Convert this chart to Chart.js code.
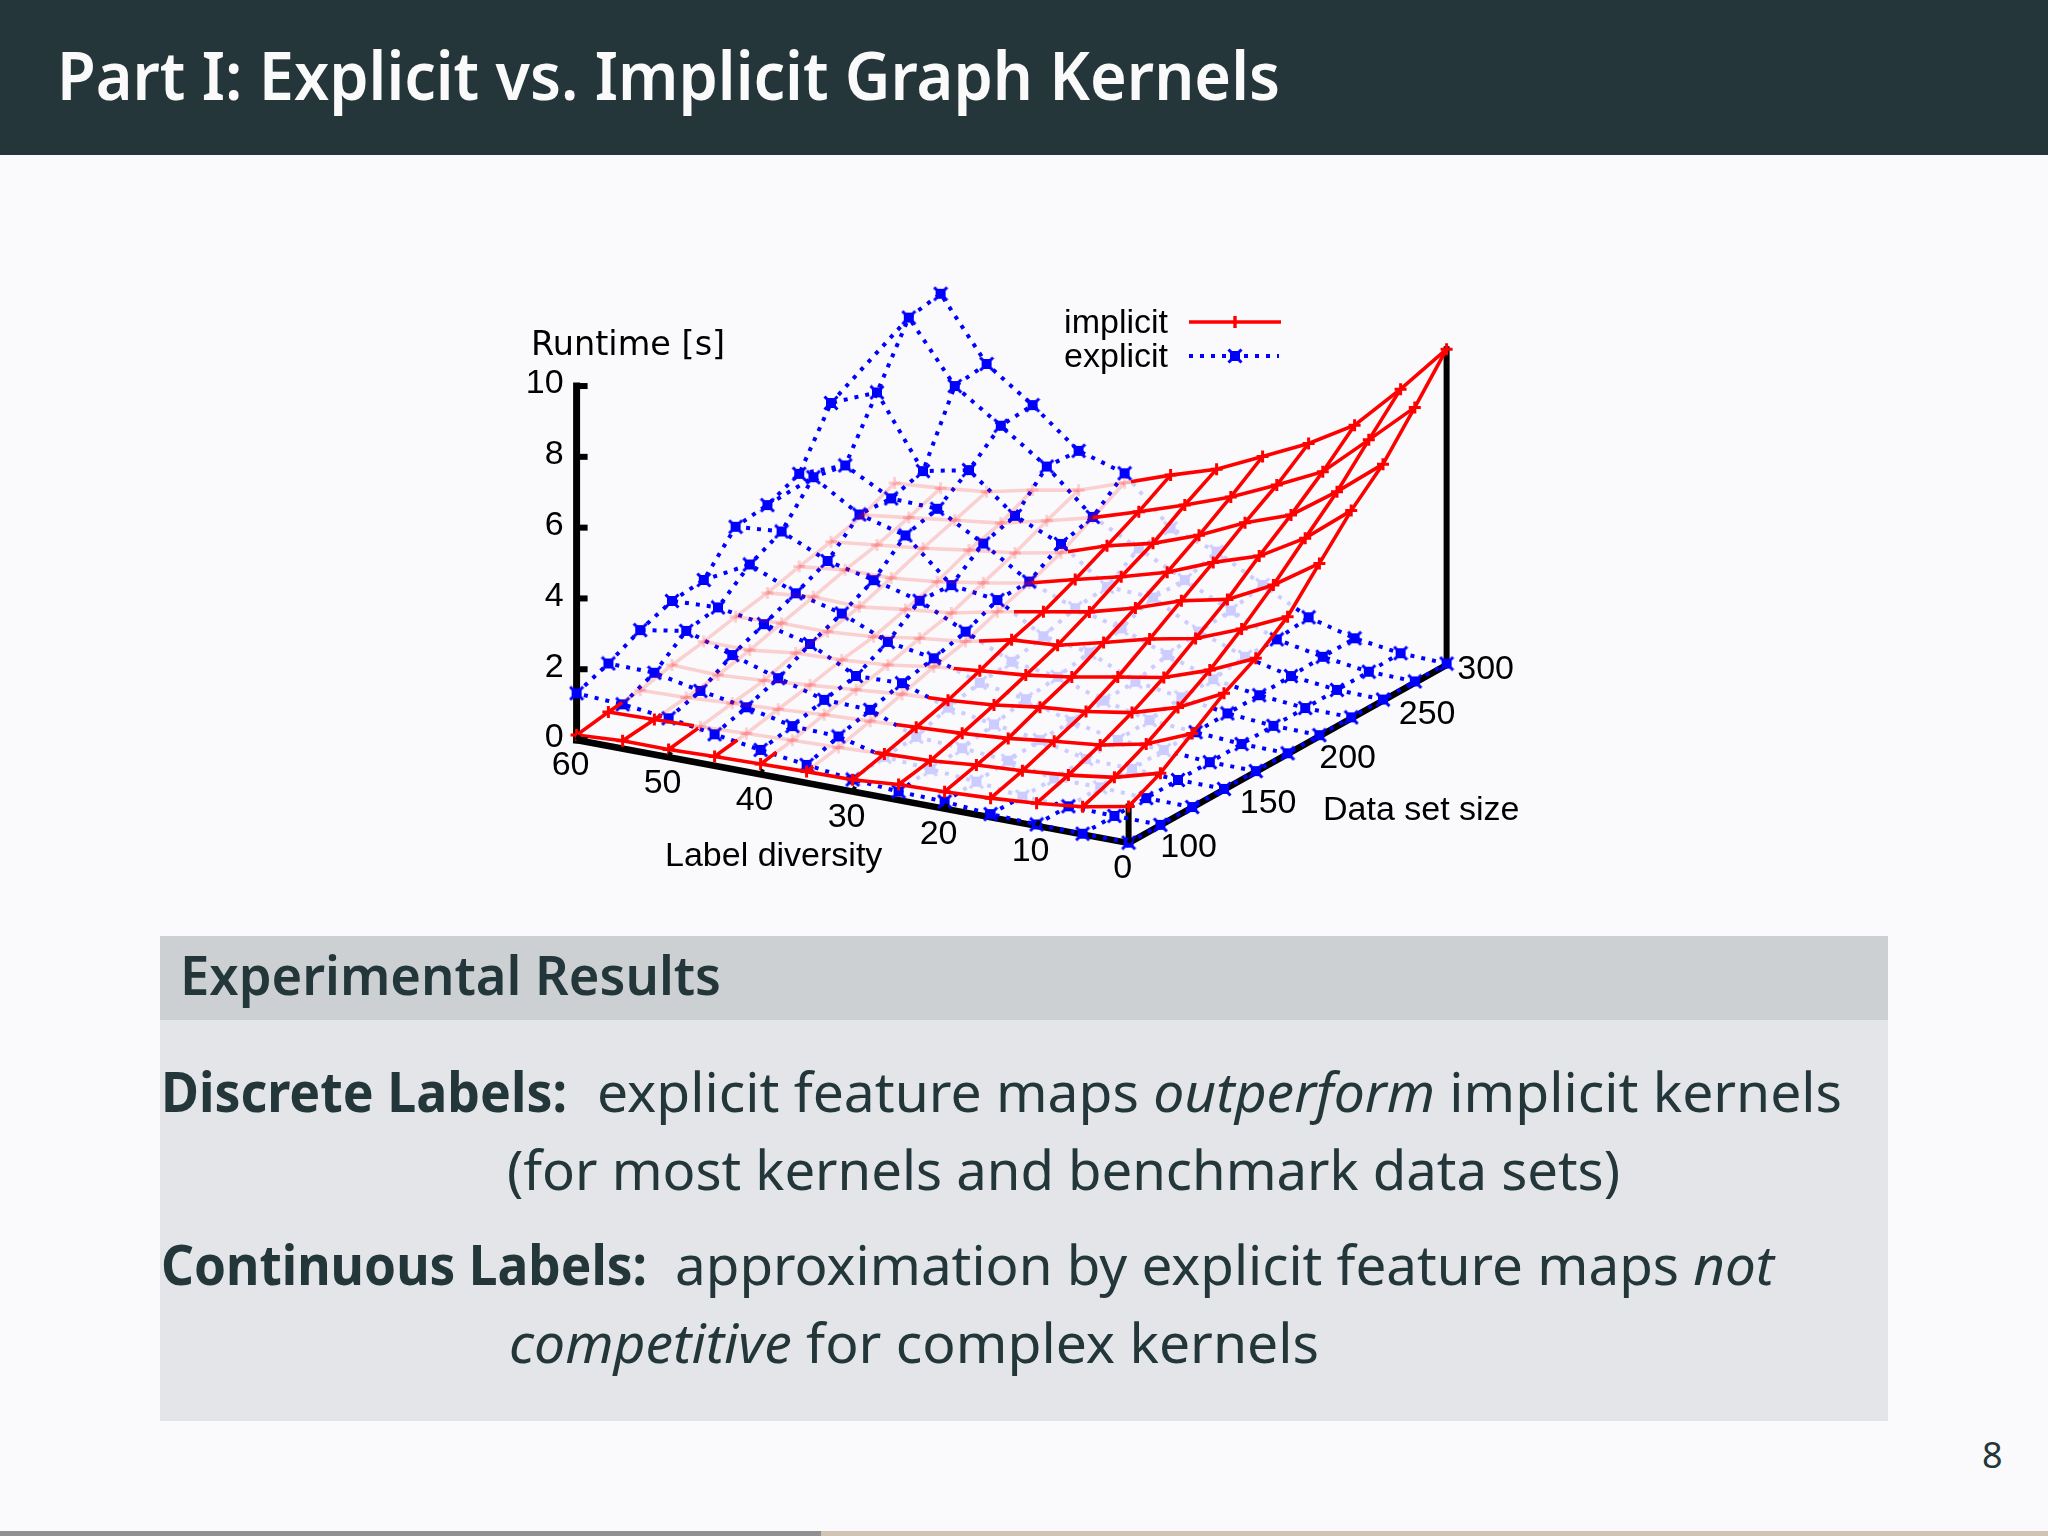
<!DOCTYPE html>
<html>
<head>
<meta charset="utf-8">
<title>Part I: Explicit vs. Implicit Graph Kernels</title>
<script src="https://cdn.jsdelivr.net/npm/chart.js@4"></script>
<style>
  html, body { margin: 0; padding: 0; background: #fafafc; }
  #slide { position: absolute; left: 0; top: 0; }
  #plot { position: absolute; left: 500px; top: 270px; }
  text { font-family: "Noto Sans", sans-serif; fill: #23373b; }
</style>
</head>
<body>
<svg id="slide" width="2048" height="1536" xmlns="http://www.w3.org/2000/svg">
  <rect x="0" y="0" width="2048" height="155" fill="#25363b"/>
  <text x="57" y="100" font-size="66" font-weight="600" style="fill:#fafafa" textLength="1223" lengthAdjust="spacingAndGlyphs">Part I: Explicit vs. Implicit Graph Kernels</text>

  <rect x="160" y="936" width="1728" height="485" fill="#e3e5e8"/>
  <rect x="160" y="936" width="1728" height="84" fill="#cdd0d2"/>
  <text x="180" y="995" font-size="55" font-weight="600" textLength="541" lengthAdjust="spacingAndGlyphs">Experimental Results</text>

  <text x="161" y="1112" font-size="55" font-weight="700" textLength="406" lengthAdjust="spacingAndGlyphs">Discrete Labels:</text>
  <text x="597" y="1112" font-size="55" font-weight="400" textLength="1245" lengthAdjust="spacingAndGlyphs">explicit feature maps <tspan font-style="italic">outperform</tspan> implicit kernels</text>
  <text x="507" y="1190" font-size="55" font-weight="400" textLength="1113" lengthAdjust="spacingAndGlyphs">(for most kernels and benchmark data sets)</text>
  <text x="161" y="1285" font-size="55" font-weight="700" textLength="486" lengthAdjust="spacingAndGlyphs">Continuous Labels:</text>
  <text x="675" y="1285" font-size="55" font-weight="400" textLength="1099" lengthAdjust="spacingAndGlyphs">approximation by explicit feature maps <tspan font-style="italic">not</tspan></text>
  <text x="509" y="1363" font-size="55" font-weight="400" textLength="810" lengthAdjust="spacingAndGlyphs"><tspan font-style="italic">competitive</tspan> for complex kernels</text>

  <text x="1982" y="1468" font-size="36" font-weight="400">8</text>
  <rect x="0" y="1531" width="821" height="5" fill="#909090"/>
  <rect x="821" y="1531" width="1227" height="5" fill="#d2c4b4"/>
</svg>
<canvas id="plot" width="1060" height="640"></canvas>

<script>
// axes of the surface plot
var labelDiversity = [0, 5, 10, 15, 20, 25, 30, 35, 40, 45, 50, 55, 60];
var dataSetSize = [100, 120, 140, 160, 180, 200, 220, 240, 260, 280, 300];
var diversityTicks = [0, 10, 20, 30, 40, 50, 60];
var sizeTicks = [100, 150, 200, 250, 300];
var runtimeTicks = [0, 2, 4, 6, 8, 10];

// runtime [s], one row per label diversity, one column per data set size
var implicitRuntime = [
  [1.03, 1.47, 2.09, 2.72, 3.21, 3.88, 4.88, 5.87, 6.68, 7.78, 8.92],
  [0.78, 1.11, 1.55, 2.08, 2.63, 3.29, 4.03, 4.85, 5.66, 6.62, 7.55],
  [0.64, 0.93, 1.28, 1.69, 2.18, 2.78, 3.38, 4.10, 4.76, 5.48, 6.29],
  [0.54, 0.81, 1.14, 1.48, 1.95, 2.52, 3.10, 3.68, 4.30, 4.86, 5.53],
  [0.48, 0.73, 0.98, 1.36, 1.71, 2.18, 2.65, 3.16, 3.70, 4.28, 4.92],
  [0.44, 0.61, 0.88, 1.18, 1.52, 1.86, 2.30, 2.79, 3.23, 3.81, 4.32],
  [0.33, 0.56, 0.81, 1.07, 1.40, 1.77, 2.06, 2.47, 2.92, 3.38, 3.91],
  [0.32, 0.50, 0.74, 1.00, 1.27, 1.48, 1.82, 2.13, 2.48, 2.97, 3.45],
  [0.29, 0.46, 0.68, 0.88, 1.08, 1.33, 1.54, 1.89, 2.23, 2.64, 3.00],
  [0.26, 0.41, 0.59, 0.77, 0.98, 1.13, 1.40, 1.68, 2.07, 2.33, 2.76],
  [0.22, 0.36, 0.52, 0.66, 0.93, 1.03, 1.23, 1.54, 1.88, 2.17, 2.47],
  [0.22, 0.32, 0.44, 0.57, 0.77, 1.03, 1.27, 1.53, 1.73, 2.00, 2.33],
  [0.14, 0.29, 0.40, 0.61, 0.77, 0.97, 1.14, 1.38, 1.58, 1.83, 2.23]
];
var explicitRuntime = [
  [0.01, 0.01, 0.01, 0.02, 0.02, 0.02, 0.03, 0.03, 0.03, 0.04, 0.04],
  [0.02, 0.02, 0.02, 0.03, 0.03, 0.04, 0.05, 0.05, 0.06, 0.07, 0.09],
  [0.04, 0.05, 0.08, 0.10, 0.13, 0.13, 0.16, 0.17, 0.21, 0.25, 0.27],
  [0.09, 0.08, 0.09, 0.14, 0.17, 0.23, 0.37, 0.38, 0.51, 0.50, 0.62],
  [0.20, 0.26, 0.35, 0.43, 0.45, 0.54, 0.57, 0.82, 0.98, 1.07, 1.29],
  [0.24, 0.37, 0.46, 0.63, 0.84, 0.97, 1.15, 1.33, 1.70, 1.69, 1.99],
  [0.34, 0.48, 0.54, 0.86, 1.06, 1.15, 1.37, 1.66, 1.76, 2.34, 2.41],
  [0.51, 0.81, 1.06, 1.31, 1.51, 1.76, 2.15, 2.17, 2.73, 2.99, 3.72],
  [0.69, 0.86, 1.10, 1.27, 1.73, 2.39, 2.33, 3.00, 3.28, 4.17, 4.11],
  [0.89, 1.15, 1.47, 1.93, 2.29, 2.73, 3.49, 3.74, 4.33, 5.08, 5.16],
  [1.10, 1.37, 1.88, 2.25, 2.62, 3.03, 3.84, 3.79, 4.06, 5.96, 6.08],
  [1.25, 1.64, 2.32, 2.48, 3.19, 3.62, 4.65, 4.48, 6.04, 7.65, 7.82],
  [1.32, 1.66, 2.10, 2.42, 2.51, 3.51, 3.62, 4.00, 5.50, null, null]
];

var RED = "#ff0000", RED_PALE = "rgba(255,0,0,0.17)";
var BLUE = "#0000ff", BLUE_PALE = "#ccccff";
var LAST_SIZE_AT_60 = 8;

// gnuplot view of the box, the scale units of the chart are page pixels
function project(diversity, size, runtime) {
  var u = diversity / 5, v = (size - 100) / 20;
  return {
    x: 1128.6 - 46 * u + 31.8 * v,
    y: 843 - 8.58 * u - 17.8 * v - 35.4 * runtime
  };
}

function heightAt(grid, u, v) {
  var u0 = Math.min(Math.floor(u), grid.length - 2), v0 = Math.min(Math.floor(v), grid[0].length - 2);
  var a = grid[u0][v0], b = grid[u0][v0 + 1], c = grid[u0 + 1][v0], d = grid[u0 + 1][v0 + 1];
  if (a === null || b === null || c === null || d === null) return null;
  var fu = u - u0, fv = v - v0;
  return (a * (1 - fv) + b * fv) * (1 - fu) + (c * (1 - fv) + d * fv) * fu;
}

// walk from the point towards the viewer, if it goes through the other surface it is behind it
function isCovered(other, u, v, z) {
  var prev = null;
  for (var t = 0; t < 20; t += 0.12) {
    var uu = u - 0.69 * t, vv = v - t, zz = z + 0.67 * t;
    if (uu < 0 || vv < 0) break;
    var h = heightAt(other, uu, vv);
    if (h === null) { prev = null; continue; }
    var d = zz - h;
    if (prev !== null && prev * d < 0) return true;
    prev = d;
  }
  return false;
}

function node(grid, u, v) {
  var p = project(labelDiversity[u], dataSetSize[v], grid[u][v]);
  return { x: p.x, y: p.y, u: u, v: v, z: grid[u][v] };
}

function hiddenColors(points, other, bright, pale) {
  return function (ctx) {
    var a = points[ctx.p0DataIndex], b = points[ctx.p1DataIndex];
    var N = 14, flags = [], any = false, all = true;
    for (var k = 0; k < N; k++) {
      var m = (k + 0.5) / N;
      var hid = isCovered(other, a.u + (b.u - a.u) * m, a.v + (b.v - a.v) * m, a.z + (b.z - a.z) * m);
      flags.push(hid);
      any = any || hid;
      all = all && hid;
    }
    if (!any) return bright;
    if (all) return pale;
    var g = ctx.chart.ctx.createLinearGradient(ctx.p0.x, ctx.p0.y, ctx.p1.x, ctx.p1.y);
    flags.forEach(function (hid, k) {
      g.addColorStop(k / N, hid ? pale : bright);
      g.addColorStop((k + 1) / N, hid ? pale : bright);
    });
    return g;
  };
}

function blueMark(color) {
  var c = document.createElement("canvas");
  c.width = 16; c.height = 16;
  var g = c.getContext("2d");
  g.fillStyle = color;
  g.fillRect(3, 3, 10, 10);
  g.strokeStyle = color;
  g.lineWidth = 3;
  g.beginPath();
  g.moveTo(1.5, 1.5); g.lineTo(14.5, 14.5);
  g.moveTo(14.5, 1.5); g.lineTo(1.5, 14.5);
  g.stroke();
  return c;
}
var markBright = blueMark(BLUE), markPale = blueMark(BLUE_PALE);

function redSet(points, withMarks) {
  return {
    data: points, showLine: true, borderWidth: 3.6, borderColor: RED,
    pointStyle: "cross", pointRadius: withMarks ? 6 : 0, pointBorderWidth: 3,
    pointBorderColor: function (ctx) {
      var r = ctx.raw;
      return r && isCovered(explicitRuntime, r.u, r.v, r.z) ? RED_PALE : RED;
    },
    segment: { borderColor: hiddenColors(points, explicitRuntime, RED, RED_PALE) }
  };
}

function blueSet(points, withMarks) {
  return {
    data: points, showLine: true, borderWidth: 4, borderColor: BLUE, borderDash: [4, 7],
    pointStyle: function (ctx) {
      var r = ctx.raw;
      return r && isCovered(implicitRuntime, r.u, r.v, r.z) ? markPale : markBright;
    },
    pointRadius: withMarks ? 7 : 0,
    segment: { borderColor: hiddenColors(points, implicitRuntime, BLUE, BLUE_PALE) }
  };
}

function axisSet(a, b, width) {
  return { data: [a, b], showLine: true, borderWidth: width, borderColor: "#000", pointRadius: 0, borderCapStyle: "square" };
}

var datasets = [];
labelDiversity.forEach(function (_, u) {
  datasets.push(redSet(dataSetSize.map(function (_, v) { return node(implicitRuntime, u, v); }), true));
});
dataSetSize.forEach(function (_, v) {
  datasets.push(redSet(labelDiversity.map(function (_, u) { return node(implicitRuntime, u, v); }), false));
});
labelDiversity.forEach(function (_, u) {
  var pts = [];
  dataSetSize.forEach(function (_, v) { if (explicitRuntime[u][v] !== null) pts.push(node(explicitRuntime, u, v)); });
  datasets.push(blueSet(pts, true));
});
dataSetSize.forEach(function (_, v) {
  var pts = [];
  labelDiversity.forEach(function (_, u) { if (explicitRuntime[u][v] !== null) pts.push(node(explicitRuntime, u, v)); });
  datasets.push(blueSet(pts, false));
});
// the 60 row stops early and closes to the next row
datasets.push(blueSet([node(explicitRuntime, 12, LAST_SIZE_AT_60), node(explicitRuntime, 11, LAST_SIZE_AT_60 + 1)], false));

datasets.push(axisSet(project(60, 100, 0), project(0, 100, 0), 6.5));
datasets.push(axisSet(project(0, 100, 0), project(0, 300, 0), 6.5));
datasets.push(axisSet(project(60, 100, 0), project(60, 100, 10), 7));
datasets.push(axisSet(project(0, 300, 0), project(0, 300, implicitRuntime[0][10]), 6));
datasets.push(axisSet(project(0, 100, 0), project(0, 100, implicitRuntime[0][0]), 6));

var plotLabels = {
  id: "plotLabels",
  afterDraw: function (chart) {
    var c = chart.ctx, sx = chart.scales.x, sy = chart.scales.y;
    var px = function (v) { return sx.getPixelForValue(v); };
    var py = function (v) { return sy.getPixelForValue(v); };
    var label = function (s, x, y, font, align, base) {
      c.font = font; c.textAlign = align; c.textBaseline = base; c.fillStyle = "#000";
      c.fillText(s, px(x), py(y));
    };
    var tickFont = '34px "Liberation Sans"';
    c.save();

    c.strokeStyle = "#000";
    runtimeTicks.forEach(function (t) {
      var p = project(60, 100, t);
      c.lineWidth = 6;
      c.beginPath(); c.moveTo(px(p.x), py(p.y)); c.lineTo(px(p.x + 11), py(p.y)); c.stroke();
      label(String(t), p.x - 13, p.y - 2, tickFont, "right", "middle");
    });
    diversityTicks.forEach(function (t) {
      var p = project(t, 100, 0);
      c.lineWidth = 4;
      c.beginPath(); c.moveTo(px(p.x), py(p.y)); c.lineTo(px(p.x + 2.5), py(p.y - 5)); c.stroke();
      label(String(t), p.x - 6, p.y + 26, tickFont, "center", "middle");
    });
    sizeTicks.forEach(function (t) {
      var p = project(0, t, 0);
      label(String(t), p.x + (t === 300 ? 39 : 60), p.y + 5, tickFont, "center", "middle");
    });

    label("Runtime [s]", 531, 355, '33.5px "DejaVu Sans"', "left", "alphabetic");
    label("Label diversity", 665, 866, tickFont, "left", "alphabetic");
    label("Data set size", 1323, 820, tickFont, "left", "alphabetic");

    // gnuplot key, text to the left of the sample
    label("implicit", 1168, 333, tickFont, "right", "alphabetic");
    label("explicit", 1168, 367, tickFont, "right", "alphabetic");
    c.strokeStyle = RED; c.lineWidth = 3.4;
    c.beginPath(); c.moveTo(px(1189), py(322)); c.lineTo(px(1281), py(322)); c.stroke();
    c.beginPath(); c.moveTo(px(1235), py(316)); c.lineTo(px(1235), py(328)); c.stroke();
    c.strokeStyle = BLUE; c.lineWidth = 4; c.setLineDash([4, 7]);
    c.beginPath(); c.moveTo(px(1189), py(356)); c.lineTo(px(1279), py(356)); c.stroke();
    c.setLineDash([]);
    c.drawImage(markBright, px(1235) - 8, py(356) - 8);
    c.restore();
  }
};

new Chart(document.getElementById("plot"), {
  type: "scatter",
  data: { datasets: datasets },
  options: {
    responsive: false,
    animation: false,
    devicePixelRatio: 1,
    layout: { padding: 0, autoPadding: false },
    elements: { line: { tension: 0 } },
    plugins: { legend: { display: false }, tooltip: { enabled: false } },
    scales: {
      x: { type: "linear", min: 500, max: 1560, display: false },
      y: { type: "linear", min: 270, max: 910, reverse: true, display: false }
    }
  },
  plugins: [plotLabels]
});
</script>
</body>
</html>
